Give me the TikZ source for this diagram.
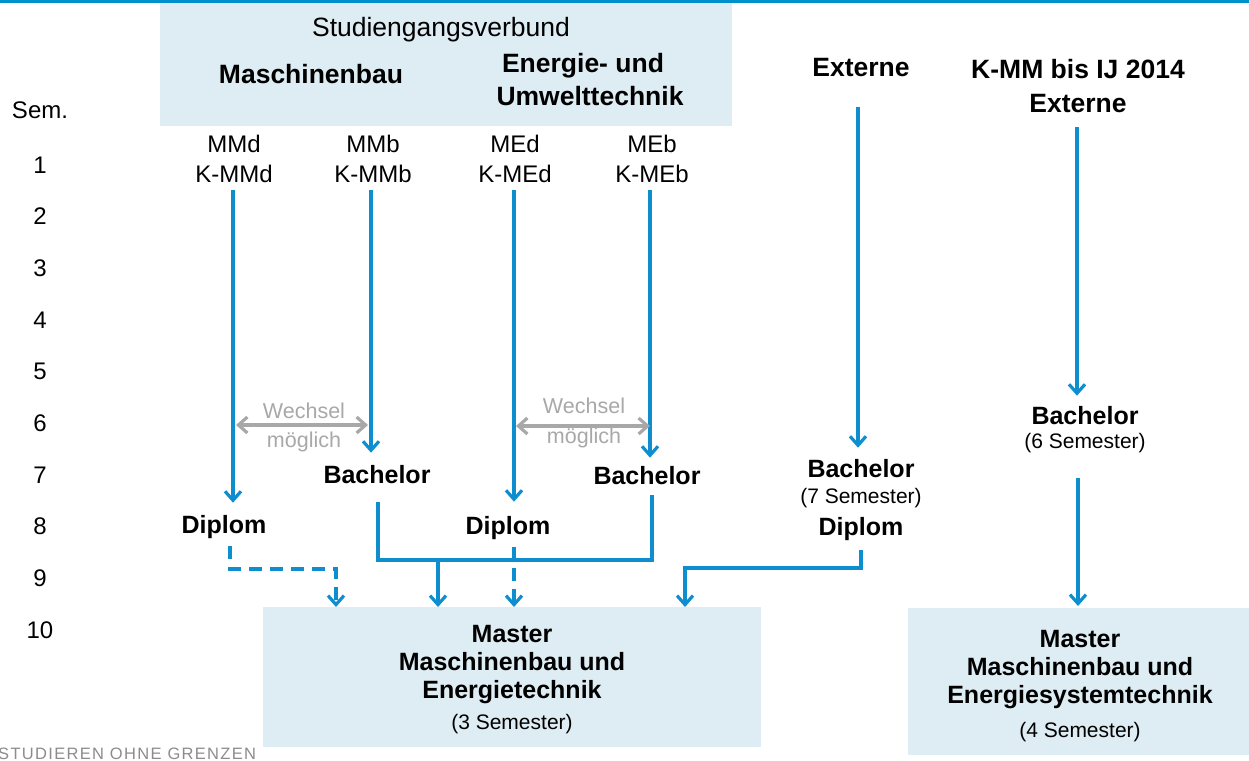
\documentclass[tikz,border=0pt]{standalone}
\usepackage{fontspec}
\setmainfont{Liberation Sans}
\newfontfamily\footfont[LetterSpace=8]{Liberation Sans}
\usetikzlibrary{arrows.meta}
\definecolor{lblue}{HTML}{0E8ECF}
\definecolor{boxfill}{HTML}{DEECF3}
\definecolor{wgray}{HTML}{A8A8A8}
\definecolor{barblue}{HTML}{0090CC}
\definecolor{footgray}{HTML}{8C8C8C}
\begin{document}
\begin{tikzpicture}[x=1pt,y=-1pt,
 lab/.style={inner sep=0pt, anchor=base, font=\fontsize{24}{28}\selectfont},
 ttl/.style={inner sep=0pt, anchor=base, font=\fontsize{26.5}{32}\selectfont\bfseries},
 bld/.style={inner sep=0pt, anchor=base, font=\fontsize{25}{30}\selectfont\bfseries},
 sml/.style={inner sep=0pt, anchor=base, font=\fontsize{21}{25}\selectfont},
 wch/.style={inner sep=0pt, anchor=base, font=\fontsize{21.5}{25}\selectfont, text=wgray},
 panel/.style={fill=boxfill, draw=none, inner sep=0pt, anchor=north west},
 conn/.style={draw=lblue, line width=3.2pt},
 arr/.style={conn, -{Straight Barb[length=9pt,width=16pt]}},
 dasharr/.style={arr, dash pattern=on 13pt off 8pt},
 dblarr/.style={draw=wgray, line width=3.2pt, {Straight Barb[length=9pt,width=16pt]}-{Straight Barb[length=9pt,width=16pt]}},
]
\useasboundingbox (0,0) rectangle (1249,760);
% top bar and panels
\fill[barblue] (0,0) rectangle (1249,3.5);
\node[panel, minimum width=572pt, minimum height=123pt] (verbund) at (160,3) {};
\node[panel, minimum width=498pt, minimum height=140pt] (m1box) at (263,607) {};
\node[panel, minimum width=345pt, minimum height=147pt] (m2box) at (908,608) {};

% header texts
\node[lab, font=\fontsize{26.5}{32}\selectfont] (sv) at (441,37) {Studiengangsverbund};
\node[ttl] (mb) at (311,83) {Maschinenbau};
\node[ttl] (eu1) at (583,73) {Energie- und};
\node[ttl] (eu2) at (590,105) {Umwelttechnik};
\node[ttl] (ext) at (861,77) {Externe};
\node[ttl] (kmm) at (1078,78) {K-MM bis IJ 2014};
\node[ttl] (ext2) at (1078,112) {Externe};

% semester column
\node[lab] (sem) at (40,118) {Sem.};
\foreach \n in {1,...,10} \node[lab] (s\n) at (40,{173+(\n-1)*51.7}) {\n};

% programme codes
\node[lab] (mmd) at (234,152) {MMd};
\node[lab] (kmmd) at (234,182) {K-MMd};
\node[lab] (mmb) at (373,152) {MMb};
\node[lab] (kmmb) at (373,182) {K-MMb};
\node[lab] (med) at (515,152) {MEd};
\node[lab] (kmed) at (515,182) {K-MEd};
\node[lab] (meb) at (652,152) {MEb};
\node[lab] (kmeb) at (652,182) {K-MEb};

% degrees
\node[bld] (bach1) at (377,483) {Bachelor};
\node[bld] (bach2) at (647,484) {Bachelor};
\node[bld] (dipl1) at (224,533) {Diplom};
\node[bld] (dipl2) at (508,534) {Diplom};
\node[bld] (bach3) at (861,477) {Bachelor};
\node[sml] (sem7) at (861,503) {(7 Semester)};
\node[bld] (dipl3) at (861,535) {Diplom};
\node[bld] (bach4) at (1085,424) {Bachelor};
\node[sml] (sem6) at (1085,448) {(6 Semester)};

% Wechsel labels
\node[wch] (w1a) at (304,418) {Wechsel};
\node[wch] (w1b) at (304,447) {möglich};
\node[wch] (w2a) at (584,413) {Wechsel};
\node[wch] (w2b) at (584,443) {möglich};

% master texts
\node[bld] (ma1) at (512,642) {Master};
\node[bld] (ma2) at (512,670) {Maschinenbau und};
\node[bld] (ma3) at (512,698) {Energietechnik};
\node[sml] (ma4) at (512,729) {(3 Semester)};
\node[bld] (mb1) at (1080,647) {Master};
\node[bld] (mb2) at (1080,675) {Maschinenbau und};
\node[bld] (mb3) at (1080,703) {Energiesystemtechnik};
\node[sml] (mb4) at (1080,737) {(4 Semester)};

% footer
\node[inner sep=0pt, anchor=base west, font=\footfont\fontsize{16.5}{20}\selectfont, text=footgray] (foot) at (-2,759) {STUDIEREN OHNE GRENZEN};

% vertical arrows
\draw[arr, shorten <=8pt, shorten >=12pt] ([xshift=-1pt]kmmd.south) -- ([xshift=-1pt]kmmd.south |- dipl1.north);
\draw[arr, shorten <=8pt, shorten >=12pt] ([xshift=-2pt]kmmb.south) -- ([xshift=-2pt]kmmb.south |- bach1.north);
\draw[arr, shorten <=8pt, shorten >=14pt] ([xshift=-1pt]kmed.south) -- ([xshift=-1pt]kmed.south |- dipl2.north);
\draw[arr, shorten <=8pt, shorten >=8pt] ([xshift=-2pt]kmeb.south) -- ([xshift=-2pt]kmeb.south |- bach2.north);
\draw[arr, shorten <=30pt, shorten >=11pt] ([xshift=-3pt]ext.south) -- ([xshift=-3pt]ext.south |- bach3.north);
\draw[arr, shorten <=15pt, shorten >=10pt] ([xshift=-1pt]ext2.south) -- ([xshift=-1pt]ext2.south |- bach4.north);
\draw[arr, shorten <=25pt, shorten >=2pt] ([xshift=-7pt]sem6.south) -- ([xshift=-7pt]sem6.south |- m2box.north);

% Wechsel double arrows
\coordinate (wa1) at (236,425);
\coordinate (wa2) at (368,425);
\coordinate (wb1) at (516,426);
\coordinate (wb2) at (650,426);
\draw[dblarr] (wa1) -- (wa2);
\draw[dblarr] (wb1) -- (wb2);

% bachelor bracket to master
\coordinate (j1) at (438,560);
\draw[conn] ([xshift=1pt,yshift=-19pt]bach1.south) |- (j1) -| ([xshift=5pt,yshift=-11pt]bach2.south);
\draw[arr] (j1) -- (j1 |- m1box.north);

% Diplom dashed connectors
\coordinate (d1) at (336,569);
\draw[dasharr] ([xshift=6pt,yshift=-8pt]dipl1.south) |- (d1) -- (d1 |- m1box.north);
\coordinate (d2) at ([xshift=6pt,yshift=-8pt]dipl2.south);
\draw[dasharr] (d2) -- (d2 |- m1box.north);

% external bracket
\coordinate (j2) at (685,568);
\draw[arr] ([yshift=-10pt]dipl3.south) |- (j2) -- (j2 |- m1box.north);
\end{tikzpicture}
\end{document}
